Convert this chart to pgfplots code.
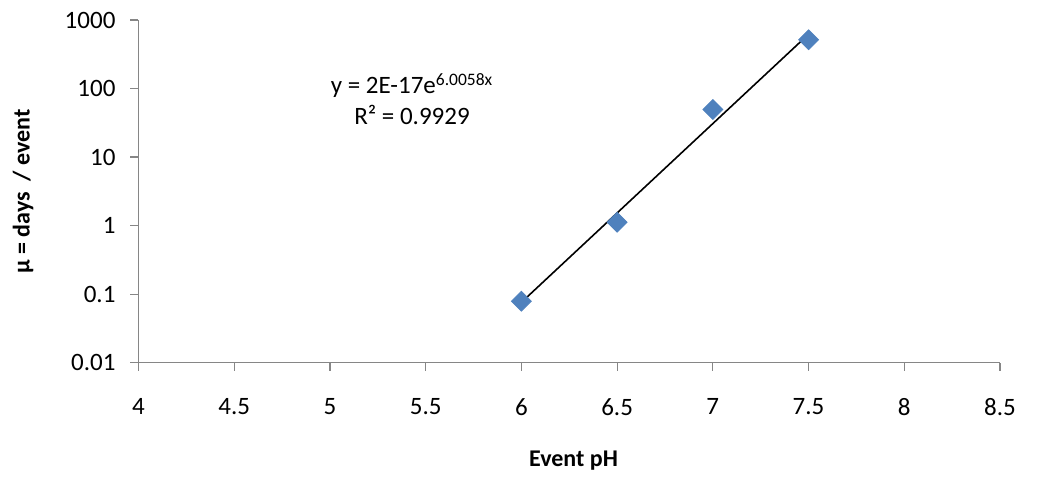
\documentclass[border=0pt]{standalone}
\usepackage{fontspec}
\setmainfont{Carlito}
\usepackage{pgfplots}
\pgfplotsset{compat=1.18}
\definecolor{xlblue}{HTML}{4F81BD}
\definecolor{xlgray}{HTML}{868686}
\begin{document}
\begin{tikzpicture}[font=\fontsize{12.5}{15}\selectfont]
\path[use as bounding box] (-69.25pt,-57.15pt) rectangle (449.75pt,181.35pt);
\begin{axis}[
  at={(0,0)}, anchor=south west,
  scale only axis, width=430.75pt, height=171.35pt,
  ymode=log,
  xmin=4, xmax=8.5, ymin=0.01, ymax=1000,
  axis x line*=bottom, axis y line*=left,
  axis line style={xlgray, line width=0.6pt},
  xtick={4,4.5,5,5.5,6,6.5,7,7.5,8,8.5},
  xticklabels={4,4.5,5,5.5,6,6.5,7,7.5,8,8.5},
  ytick={0.01,0.1,1,10,100,1000},
  yticklabels={0.01,0.1,1,10,100,1000},
  minor tick num=0,
  minor y tick style={draw=none},
  tick align=outside,
  major tick length=4pt,
  tick style={xlgray, line width=0.6pt},
  xticklabel style={yshift=-10.5pt},
  yticklabel style={xshift=-4pt},
  xlabel={\bfseries Event pH},
  ylabel={\bfseries μ = days~~/ event},
  xlabel style={at={(axis description cs:0.505,-0.285)}, anchor=center, font=\fontsize{12}{14}\selectfont},
  ylabel style={at={(axis description cs:-0.134,0.5)}, anchor=center, font=\fontsize{12}{14}\selectfont},
  clip=false,
]
\addplot[black, line width=0.8pt] coordinates {(6,0.076) (7.5,620)};
\addplot[only marks, mark=square*, mark size=3.5pt, mark options={rotate=45, fill=xlblue, draw=xlblue}] coordinates {
  (6,0.079) (6.5,1.12) (7,49.5) (7.5,515)
};
\node[align=center, font=\fontsize{12.5}{15.5}\selectfont] at (rel axis cs:0.3175,0.7695) {y = 2E-17e\textsuperscript{6.0058x}\\R² = 0.9929};
\end{axis}
\end{tikzpicture}
\end{document}
